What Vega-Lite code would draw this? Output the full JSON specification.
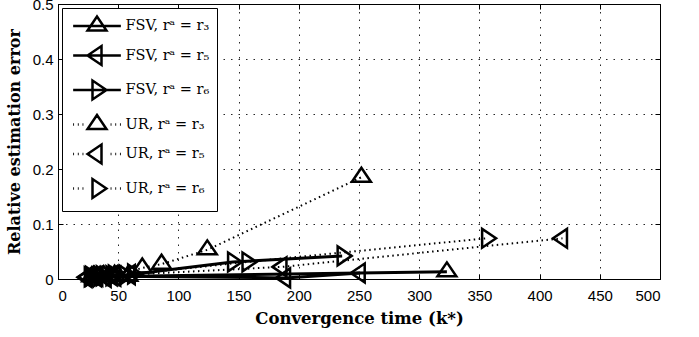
{
  "$schema": "https://vega.github.io/schema/vega-lite/v6.json",
  "width": 602,
  "height": 275,
  "autosize": {"type": "none"},
  "padding": {"left": 58, "top": 4, "right": 39, "bottom": 58},
  "background": "white",
  "config": {
    "view": {"stroke": "black", "strokeWidth": 1},
    "axis": {
      "domainColor": "black",
      "tickColor": "black",
      "tickSize": -5,
      "labelFont": "Liberation Sans",
      "labelFontSize": 15,
      "labelColor": "black",
      "titleColor": "black",
      "titleFont": "DejaVu Serif",
      "titleFontWeight": "bold",
      "titleFontSize": 16
    }
  },
  "data": {
    "values": [
      {"method": "FSV", "series": "FSV, rᵃ = r₃", "x": 28, "y": 0.004},
      {"method": "FSV", "series": "FSV, rᵃ = r₃", "x": 35, "y": 0.005},
      {"method": "FSV", "series": "FSV, rᵃ = r₃", "x": 42, "y": 0.004},
      {"method": "FSV", "series": "FSV, rᵃ = r₃", "x": 50, "y": 0.006},
      {"method": "FSV", "series": "FSV, rᵃ = r₃", "x": 58, "y": 0.005},
      {"method": "FSV", "series": "FSV, rᵃ = r₃", "x": 323, "y": 0.013},
      {"method": "FSV", "series": "FSV, rᵃ = r₅", "x": 24, "y": 0.003},
      {"method": "FSV", "series": "FSV, rᵃ = r₅", "x": 32, "y": 0.004},
      {"method": "FSV", "series": "FSV, rᵃ = r₅", "x": 40, "y": 0.003},
      {"method": "FSV", "series": "FSV, rᵃ = r₅", "x": 48, "y": 0.005},
      {"method": "FSV", "series": "FSV, rᵃ = r₅", "x": 189, "y": 0.002},
      {"method": "FSV", "series": "FSV, rᵃ = r₅", "x": 251, "y": 0.011},
      {"method": "FSV", "series": "FSV, rᵃ = r₆", "x": 26, "y": 0.004},
      {"method": "FSV", "series": "FSV, rᵃ = r₆", "x": 34, "y": 0.005},
      {"method": "FSV", "series": "FSV, rᵃ = r₆", "x": 44, "y": 0.006},
      {"method": "FSV", "series": "FSV, rᵃ = r₆", "x": 55, "y": 0.007},
      {"method": "FSV", "series": "FSV, rᵃ = r₆", "x": 145, "y": 0.031},
      {"method": "FSV", "series": "FSV, rᵃ = r₆", "x": 236, "y": 0.042},
      {"method": "UR", "series": "UR, rᵃ = r₃", "x": 30, "y": 0.005},
      {"method": "UR", "series": "UR, rᵃ = r₃", "x": 38, "y": 0.006},
      {"method": "UR", "series": "UR, rᵃ = r₃", "x": 47, "y": 0.007},
      {"method": "UR", "series": "UR, rᵃ = r₃", "x": 70, "y": 0.02},
      {"method": "UR", "series": "UR, rᵃ = r₃", "x": 86, "y": 0.027},
      {"method": "UR", "series": "UR, rᵃ = r₃", "x": 124, "y": 0.053},
      {"method": "UR", "series": "UR, rᵃ = r₃", "x": 252, "y": 0.185},
      {"method": "UR", "series": "UR, rᵃ = r₅", "x": 25, "y": 0.004},
      {"method": "UR", "series": "UR, rᵃ = r₅", "x": 33, "y": 0.005},
      {"method": "UR", "series": "UR, rᵃ = r₅", "x": 45, "y": 0.006},
      {"method": "UR", "series": "UR, rᵃ = r₅", "x": 60, "y": 0.008},
      {"method": "UR", "series": "UR, rᵃ = r₅", "x": 186, "y": 0.022},
      {"method": "UR", "series": "UR, rᵃ = r₅", "x": 419, "y": 0.074},
      {"method": "UR", "series": "UR, rᵃ = r₆", "x": 27, "y": 0.005},
      {"method": "UR", "series": "UR, rᵃ = r₆", "x": 36, "y": 0.006},
      {"method": "UR", "series": "UR, rᵃ = r₆", "x": 46, "y": 0.007},
      {"method": "UR", "series": "UR, rᵃ = r₆", "x": 62, "y": 0.009},
      {"method": "UR", "series": "UR, rᵃ = r₆", "x": 157, "y": 0.031},
      {"method": "UR", "series": "UR, rᵃ = r₆", "x": 356, "y": 0.074}
    ]
  },
  "resolve": {"axis": {"x": "independent", "y": "independent"}, "scale": {"shape": "independent"}},
  "layer": [
    {
      "transform": [{"filter": "datum.method === 'FSV'"}],
      "mark": {"type": "line", "color": "black", "strokeWidth": 3, "clip": false},
      "encoding": {
        "x": {
          "field": "x", "type": "quantitative",
          "scale": {"domain": [0, 500], "nice": false},
          "axis": {
            "values": [0, 50, 100, 150, 200, 250, 300, 350, 400, 450, 500],
            "grid": true, "gridDash": [1.5, 6], "gridColor": "black", "gridOpacity": 0.85,
            "labelPadding": 14, "title": "Convergence time (k*)", "titlePadding": 7,
            "titleFontSize": 16.5
          }
        },
        "y": {
          "field": "y", "type": "quantitative",
          "scale": {"domain": [0, 0.5], "nice": false},
          "axis": {
            "values": [0, 0.1, 0.2, 0.3, 0.4, 0.5],
            "format": ".1~f",
            "grid": true, "gridDash": [1.5, 6], "gridColor": "black", "gridOpacity": 0.85,
            "labelPadding": 10, "title": "Relative estimation error", "titlePadding": 10
          }
        },
        "detail": {"field": "series"}
      }
    },
    {
      "transform": [{"filter": "datum.method === 'UR'"}],
      "mark": {"type": "line", "color": "black", "strokeWidth": 2, "strokeDash": [1.5, 3.5], "clip": false},
      "encoding": {
        "x": {"field": "x", "type": "quantitative", "axis": null},
        "y": {"field": "y", "type": "quantitative", "axis": null},
        "detail": {"field": "series"}
      }
    },
    {
      "mark": {"type": "point", "filled": false, "color": "black", "strokeWidth": 2.5, "size": 324, "opacity": 1, "clip": false},
      "encoding": {
        "x": {
          "field": "x", "type": "quantitative",
          "axis": {"orient": "top", "labels": false, "title": null, "grid": false, "domain": false,
                   "values": [0, 50, 100, 150, 200, 250, 300, 350, 400, 450, 500]}
        },
        "y": {
          "field": "y", "type": "quantitative",
          "axis": {"orient": "right", "labels": false, "title": null, "grid": false, "domain": false,
                   "values": [0, 0.1, 0.2, 0.3, 0.4, 0.5]}
        },
        "shape": {
          "field": "series", "type": "nominal",
          "scale": {
            "domain": ["FSV, rᵃ = r₃", "FSV, rᵃ = r₅", "FSV, rᵃ = r₆", "UR, rᵃ = r₃", "UR, rᵃ = r₅", "UR, rᵃ = r₆"],
            "range": [
              "M0,-1.05L-1.05,0.5L1.05,0.5Z",
              "M-1.05,0L0.5,-1.05L0.5,1.05Z",
              "M1.05,0L-0.5,-1.05L-0.5,1.05Z",
              "M0,-1.05L-1.05,0.5L1.05,0.5Z",
              "M-1.05,0L0.5,-1.05L0.5,1.05Z",
              "M1.05,0L-0.5,-1.05L-0.5,1.05Z"
            ]
          },
          "legend": null
        }
      }
    },
    {
      "transform": [{"filter": "datum.x < 0"}],
      "mark": {"type": "point", "filled": false, "color": "black", "strokeWidth": 2.5, "size": 324, "opacity": 1, "clip": false},
      "encoding": {
        "x": {"field": "x", "type": "quantitative", "axis": null},
        "y": {"field": "y", "type": "quantitative", "axis": null},
        "shape": {
          "field": "series", "type": "nominal",
          "scale": {
            "domain": ["FSV, rᵃ = r₃", "FSV, rᵃ = r₅", "FSV, rᵃ = r₆", "UR, rᵃ = r₃", "UR, rᵃ = r₅", "UR, rᵃ = r₆"],
            "range": [
              "M-2.65,0L2.65,0M0,-1.05L-1.05,0.5L1.05,0.5Z",
              "M-2.65,0L2.65,0M-1.05,0L0.5,-1.05L0.5,1.05Z",
              "M-2.65,0L2.65,0M1.05,0L-0.5,-1.05L-0.5,1.05Z",
              "M-2.65,0L-2.55,0M-2.13,0L-2.03,0M-1.61,0L-1.51,0M1.51,0L1.61,0M2.03,0L2.13,0M2.55,0L2.65,0M0,-1.05L-1.05,0.5L1.05,0.5Z",
              "M-2.65,0L-2.55,0M-2.13,0L-2.03,0M-1.61,0L-1.51,0M1.51,0L1.61,0M2.03,0L2.13,0M2.55,0L2.65,0M-1.05,0L0.5,-1.05L0.5,1.05Z",
              "M-2.65,0L-2.55,0M-2.13,0L-2.03,0M-1.61,0L-1.51,0M1.51,0L1.61,0M2.03,0L2.13,0M2.55,0L2.65,0M1.05,0L-0.5,-1.05L-0.5,1.05Z"
            ]
          },
          "legend": {
            "orient": "none",
            "legendX": 4,
            "legendY": 4,
            "title": null,
            "padding": 7.5,
            "rowPadding": 5.5,
            "symbolSize": 324,
            "symbolOffset": 17,
            "labelOffset": 18,
            "symbolStrokeWidth": 2.5,
            "symbolStrokeColor": "black",
            "symbolFillColor": "transparent",
            "symbolOpacity": 1,
            "strokeColor": "black",
            "fillColor": "white",
            "labelFont": "DejaVu Serif",
            "labelFontSize": 14.5,
            "labelColor": "black"
          }
        }
      }
    }
  ]
}
